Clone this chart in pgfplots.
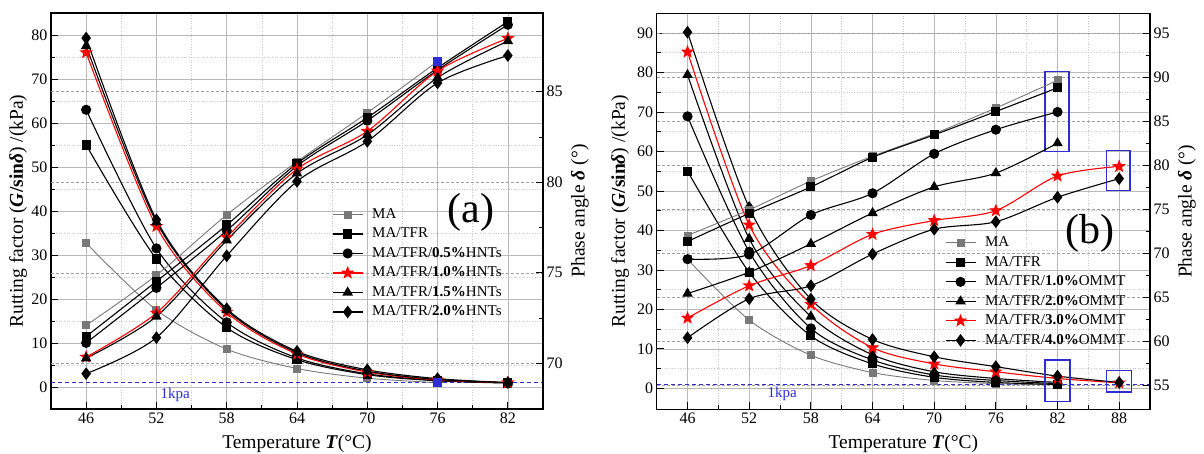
\documentclass[border=0pt]{standalone}
\usepackage{fontspec}
\setmainfont{Liberation Serif}
\usepackage{pgfplots}
\pgfplotsset{compat=1.18}
\definecolor{kblue}{RGB}{45,45,210}
\definecolor{mgray}{RGB}{120,120,120}

% filled five-point star
\pgfdeclareplotmark{fstar}{%
  \pgfpathmoveto{\pgfpointpolar{90}{\pgfplotmarksize}}%
  \pgfpathlineto{\pgfpointpolar{126}{0.42\pgfplotmarksize}}%
  \pgfpathlineto{\pgfpointpolar{162}{\pgfplotmarksize}}%
  \pgfpathlineto{\pgfpointpolar{198}{0.42\pgfplotmarksize}}%
  \pgfpathlineto{\pgfpointpolar{234}{\pgfplotmarksize}}%
  \pgfpathlineto{\pgfpointpolar{270}{0.42\pgfplotmarksize}}%
  \pgfpathlineto{\pgfpointpolar{306}{\pgfplotmarksize}}%
  \pgfpathlineto{\pgfpointpolar{342}{0.42\pgfplotmarksize}}%
  \pgfpathlineto{\pgfpointpolar{18}{\pgfplotmarksize}}%
  \pgfpathlineto{\pgfpointpolar{54}{0.42\pgfplotmarksize}}%
  \pgfpathclose
  \pgfusepathqfillstroke}

\newcommand{\lblfont}{\fontsize{19.5}{22}\selectfont}

\pgfplotsset{
  panel/.style={scale only axis, anchor=south west,
    tick align=inside, major tick length=7pt, minor tick length=4pt,
    every tick/.append style={black, line width=0.8pt},
    axis line style={line width=1.3pt},
    tick label style={font=\fontsize{16}{18}\selectfont},
    /pgf/number format/assume math mode=true,
    major grid style={solid, gray!55, line width=0.6pt},
    minor grid style={dash pattern=on 1pt off 1.6pt, gray!45, line width=0.6pt},
    legend cell align=left,
    legend image code/.code={\draw[mark repeat=2,mark phase=2,##1] plot coordinates {(0pt,0pt) (15pt,0pt) (30pt,0pt)};},
  },
  sMA/.style={mgray, line width=0.9pt, smooth, mark=square*, mark size=3.5pt, mark options={solid, fill=mgray}},
  sB/.style={black, line width=1.1pt, smooth, mark options={solid, fill=black}},
  sR/.style={red, line width=1.1pt, smooth, mark=fstar, mark size=5.5pt, mark options={solid, fill=red}},
  rgrid/.style={grid=major, major grid style={dash pattern=on 3pt off 2pt, gray!75, line width=0.7pt}, major tick length=0pt},
}

\begin{document}
\begin{tikzpicture}
\path[use as bounding box] (0,0) rectangle (1204pt,454pt);

% ---------------- panel (a) ----------------
\begin{axis}[panel, at={(51pt,45pt)}, width=492pt, height=396pt,
  xmin=43, xmax=85, ymin=-5, ymax=85,
  xtick={46,52,58,64,70,76,82}, minor x tick num=1,
  ytick={0,10,...,80}, minor y tick num=1,
  xtick pos=bottom, ytick pos=left, grid=both,
  extra y ticks={5.35,25.93,46.50,67.08}, extra y tick labels={},
  extra y tick style={rgrid},
  xlabel={Temperature \textbf{\textit{T}}(°C)},
  ylabel={Rutting factor (\textbf{\textit{G}/sin\textit{δ}}) /(kPa)},
  every axis x label/.style={at={(axis description cs:0.5,0)}, anchor=center, yshift=-35pt, font=\lblfont},
  every axis y label/.style={at={(axis description cs:-0.067,0.5)}, rotate=90, anchor=center, font=\lblfont},
  legend style={at={(axis description cs:0.571,0.512)}, anchor=north west, draw=none, fill=none,
    inner sep=0pt, column sep=8pt, row sep=3.5pt,
    font=\fontsize{15}{17}\selectfont,
    nodes={inner sep=1pt, text height=11pt, text depth=3pt}},
]
\addplot[kblue, dash pattern=on 4pt off 3pt, line width=1pt, forget plot] coordinates {(43,1) (85,1)};
\node[kblue, font=\fontsize{15}{17}\selectfont] at (axis cs:53.6,-1.8) {1kpa};
\node[font=\fontsize{42}{46}\selectfont] at (axis description cs:0.854,0.497) {(a)};

\addplot[sMA] coordinates {(46,32.7)(52,17.5)(58,8.6)(64,4.2)(70,2.0)(76,1.0)};
\addlegendentry{MA}
\addplot[sB, mark=square*, mark size=4pt] coordinates {(46,55.0)(52,29.1)(58,13.5)(64,6.2)(70,2.8)(76,1.4)(82,0.9)};
\addlegendentry{MA/TFR}
\addplot[sB, mark=*, mark size=4.5pt] coordinates {(46,63.0)(52,31.5)(58,14.7)(64,6.6)(70,3.0)(76,1.5)(82,0.95)};
\addlegendentry{MA/TFR/\textbf{0.5\%}HNTs}
\addplot[sR] coordinates {(46,76.0)(52,36.5)(58,17.0)(64,7.5)(70,3.4)(76,1.6)(82,1.0)};
\addlegendentry{MA/TFR/\textbf{1.0\%}HNTs}
\addplot[sB, mark=triangle*, mark size=5pt] coordinates {(46,77.5)(52,37.5)(58,17.5)(64,7.8)(70,3.6)(76,1.7)(82,1.0)};
\addlegendentry{MA/TFR/\textbf{1.5\%}HNTs}
\addplot[sB, mark=diamond*, mark size=5.5pt] coordinates {(46,79.3)(52,38.0)(58,17.8)(64,8.1)(70,3.9)(76,1.9)(82,1.0)};
\addlegendentry{MA/TFR/\textbf{2.0\%}HNTs}
\addplot[only marks, mark=square*, mark size=4pt, kblue, forget plot] coordinates {(76,1.0)};
\end{axis}

\begin{axis}[panel, at={(51pt,45pt)}, width=492pt, height=396pt,
  xmin=43, xmax=85, ymin=67.48, ymax=89.35,
  axis x line=none, axis y line*=right,
  ytick={70,75,80,85}, minor y tick num=1,
  ylabel={Phase angle \textbf{\textit{δ}} (°)},
  every axis y label/.style={at={(axis description cs:1.075,0.5)}, rotate=90, anchor=center, font=\lblfont},
]
\addplot[sMA] coordinates {(46,72.10)(52,74.87)(58,78.20)(64,81.14)(70,83.84)(76,86.68)};
\addplot[sB, mark=square*, mark size=4pt] coordinates {(46,71.49)(52,74.53)(58,77.64)(64,81.04)(70,83.57)(76,86.32)(82,88.87)};
\addplot[sB, mark=*, mark size=4.5pt] coordinates {(46,71.13)(52,74.17)(58,77.33)(64,80.90)(70,83.40)(76,86.20)(82,88.70)};
\addplot[sR] coordinates {(46,70.35)(52,72.78)(58,76.96)(64,80.73)(70,82.82)(76,86.15)(82,87.95)};
\addplot[sB, mark=triangle*, mark size=5pt] coordinates {(46,70.28)(52,72.59)(58,76.79)(64,80.49)(70,82.62)(76,85.78)(82,87.80)};
\addplot[sB, mark=diamond*, mark size=5.5pt] coordinates {(46,69.43)(52,71.42)(58,75.94)(64,80.05)(70,82.26)(76,85.49)(82,87.00)};
\addplot[only marks, mark=square*, mark size=4pt, kblue] coordinates {(76,86.68)};
\end{axis}

% ---------------- panel (b) ----------------
\begin{axis}[panel, at={(656.7pt,44.7pt)}, width=493.3pt, height=396pt,
  xmin=43, xmax=91, ymin=-5.3, ymax=95,
  xtick={46,52,58,64,70,76,82,88}, minor x tick num=1,
  ytick={0,10,...,90}, minor y tick num=1,
  xtick pos=bottom, ytick pos=left, grid=both,
  extra y ticks={0.67,11.83,22.98,34.14,45.29,56.45,67.60,78.76,89.92}, extra y tick labels={},
  extra y tick style={rgrid},
  xlabel={Temperature \textbf{\textit{T}}(°C)},
  ylabel={Rutting factor (\textbf{\textit{G}/sin\textit{δ}}) /(kPa)},
  every axis x label/.style={at={(axis description cs:0.5,0)}, anchor=center, yshift=-35pt, font=\lblfont},
  every axis y label/.style={at={(axis description cs:-0.074,0.5)}, rotate=90, anchor=center, font=\lblfont},
  legend style={at={(axis description cs:0.584,0.441)}, anchor=north west, draw=none, fill=none,
    inner sep=0pt, column sep=8pt, row sep=3.5pt,
    font=\fontsize{15}{17}\selectfont,
    nodes={inner sep=1pt, text height=11pt, text depth=3pt}},
]
\addplot[kblue, dash pattern=on 4pt off 3pt, line width=1pt, forget plot] coordinates {(43,1) (91,1)};
\node[kblue, font=\fontsize{15}{17}\selectfont] at (axis cs:55.2,-1.45) {1kpa};
\node[font=\fontsize{42}{46}\selectfont] at (axis description cs:0.878,0.443) {(b)};

\addplot[sMA] coordinates {(46,32.7)(52,17.3)(58,8.4)(64,4.0)(70,2.0)(76,1.2)(82,0.9)};
\addlegendentry{MA}
\addplot[sB, mark=square*, mark size=4pt] coordinates {(46,55.0)(52,29.4)(58,13.3)(64,6.2)(70,2.8)(76,1.5)(82,1.0)};
\addlegendentry{MA/TFR}
\addplot[sB, mark=*, mark size=4.5pt] coordinates {(46,68.9)(52,34.6)(58,15.2)(64,7.2)(70,3.4)(76,2.0)(82,1.2)};
\addlegendentry{MA/TFR/\textbf{1.0\%}OMMT}
\addplot[sB, mark=triangle*, mark size=5pt] coordinates {(46,79.4)(52,37.9)(58,18.2)(64,8.5)(70,4.2)(76,2.5)(82,1.5)};
\addlegendentry{MA/TFR/\textbf{2.0\%}OMMT}
\addplot[sR] coordinates {(46,85.2)(52,41.4)(58,21.3)(64,10.3)(70,6.2)(76,4.2)(82,2.5)(88,1.4)};
\addlegendentry{MA/TFR/\textbf{3.0\%}OMMT}
\addplot[sB, mark=diamond*, mark size=5.5pt] coordinates {(46,90.2)(52,45.8)(58,22.6)(64,12.4)(70,8.0)(76,5.5)(82,3.1)(88,1.5)};
\addlegendentry{MA/TFR/\textbf{4.0\%}OMMT}

\draw[kblue, line width=1.3pt] (axis cs:80.78,80.3) rectangle (axis cs:83.12,60.0);
\draw[kblue, line width=1.3pt] (axis cs:86.79,60.2) rectangle (axis cs:89.05,50.1);
\draw[kblue, line width=1.3pt] (axis cs:80.78,7.2) rectangle (axis cs:83.21,-3.4);
\draw[kblue, line width=1.3pt] (axis cs:86.79,4.5) rectangle (axis cs:89.22,-0.9);
\end{axis}

\begin{axis}[panel, at={(656.7pt,44.7pt)}, width=493.3pt, height=396pt,
  xmin=43, xmax=91, ymin=52.32, ymax=97.27,
  axis x line=none, axis y line*=right,
  ytick={55,60,...,95}, minor y tick num=1,
  ylabel={Phase angle \textbf{\textit{δ}} (°)},
  every axis y label/.style={at={(axis description cs:1.075,0.5)}, rotate=90, anchor=center, font=\lblfont},
]
\addplot[sMA] coordinates {(46,72.05)(52,74.96)(58,78.23)(64,81.05)(70,83.61)(76,86.52)(82,89.66)};
\addplot[sB, mark=square*, mark size=4pt] coordinates {(46,71.37)(52,74.56)(58,77.56)(64,80.92)(70,83.47)(76,86.12)(82,88.81)};
\addplot[sB, mark=*, mark size=4.5pt] coordinates {(46,69.36)(52,69.89)(58,74.38)(64,76.84)(70,81.32)(76,84.06)(82,86.07)};
\addplot[sB, mark=triangle*, mark size=5pt] coordinates {(46,65.46)(52,67.88)(58,71.10)(64,74.60)(70,77.56)(76,79.13)(82,82.53)};
\addplot[sR] coordinates {(46,62.68)(52,66.35)(58,68.64)(64,72.18)(70,73.75)(76,74.87)(82,78.81)(88,79.89)};
\addplot[sB, mark=diamond*, mark size=5.5pt] coordinates {(46,60.44)(52,64.87)(58,66.35)(64,69.94)(70,72.76)(76,73.61)(82,76.39)(88,78.50)};
\end{axis}
\end{tikzpicture}
\end{document}
